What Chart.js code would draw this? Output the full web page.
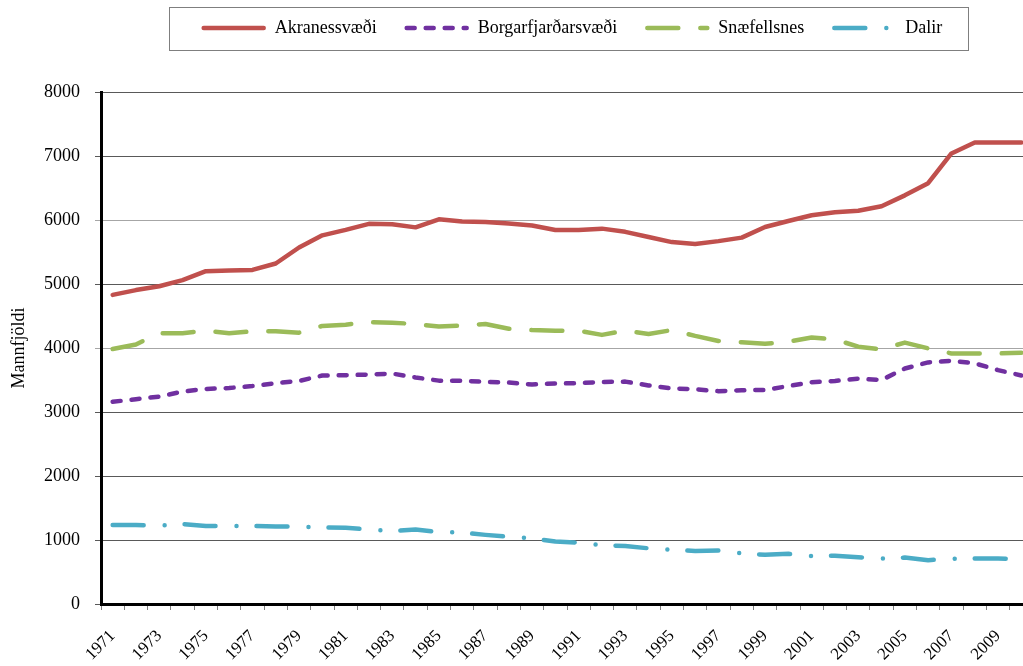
<!DOCTYPE html>
<html>
<head>
<meta charset="utf-8">
<title>Mannfjöldi</title>
<script src="https://cdn.jsdelivr.net/npm/chart.js@4.4.0/dist/chart.umd.min.js"></script>
<style>
    html, body { margin: 0; padding: 0; background: #fff; overflow: hidden; }
    canvas { display: block; }
</style>
</head>
<body>
<canvas id="popChart" width="1034" height="666"></canvas>
<script>
const years = ['1971', '1972', '1973', '1974', '1975', '1976', '1977', '1978', '1979', '1980',
               '1981', '1982', '1983', '1984', '1985', '1986', '1987', '1988', '1989', '1990',
               '1991', '1992', '1993', '1994', '1995', '1996', '1997', '1998', '1999', '2000',
               '2001', '2002', '2003', '2004', '2005', '2006', '2007', '2008', '2009', '2010'];

const akranes = [4830, 4905, 4965, 5060, 5200, 5210, 5220, 5320, 5570, 5760,
                 5845, 5940, 5935, 5885, 6010, 5975, 5970, 5945, 5915, 5845,
                 5845, 5865, 5815, 5735, 5655, 5625, 5670, 5725, 5890, 5985,
                 6075, 6120, 6145, 6215, 6385, 6575, 7040, 7210, 7210, 7210];

const borgarfjordur = [3160, 3200, 3240, 3320, 3360, 3375, 3405, 3450, 3485, 3570,
                       3575, 3585, 3600, 3540, 3490, 3490, 3470, 3460, 3430, 3445,
                       3450, 3470, 3475, 3415, 3370, 3355, 3325, 3340, 3345, 3405,
                       3465, 3485, 3520, 3500, 3680, 3775, 3800, 3760, 3655, 3570];

const snaefellsnes = [3985, 4055, 4230, 4230, 4270, 4230, 4260, 4260, 4240, 4345,
                      4365, 4405, 4395, 4375, 4335, 4350, 4375, 4300, 4280, 4270,
                      4270, 4205, 4270, 4220, 4280, 4190, 4110, 4090, 4065, 4100,
                      4165, 4135, 4020, 3980, 4085, 3995, 3915, 3915, 3915, 3925];

const dalir = [1235, 1235, 1225, 1250, 1220, 1220, 1220, 1210, 1210, 1195,
               1190, 1165, 1140, 1165, 1125, 1115, 1080, 1050, 1025, 975,
               960, 920, 905, 870, 845, 830, 835, 790, 770, 785,
               750, 755, 730, 710, 725, 685, 705, 710, 710, 705];

const yTicks = [0, 1000, 2000, 3000, 4000, 5000, 6000, 7000, 8000];

const serif = "'Liberation Serif', 'DejaVu Serif', serif";
const legendFont = 18;

// legend sits centred over the plot; sample lines (with dashes) and frame drawn here
const legendFrame = {
    id: 'legendFrame',
    afterLayout(chart) {
        const lg = chart.legend;
        const pad = lg.options.labels.padding;
        const shift = 28 - (lg.top + pad + legendFont / 2);
        lg.left = chart.chartArea.left + 10;
        lg.right = chart.chartArea.right;
        lg.top += shift;
        lg.bottom += shift;
    },
    afterDraw(chart) {
        const lg = chart.legend;
        const boxes = lg.legendHitBoxes;
        if (!boxes || !boxes.length) return;
        const c = chart.ctx;
        const cy = boxes[0].top + boxes[0].height / 2;

        c.save();
        boxes.forEach((hb, i) => {
            const ds = chart.data.datasets[i];
            c.beginPath();
            c.setLineDash(ds.borderDash || []);
            c.lineCap = 'round';
            c.lineWidth = ds.borderWidth;
            c.strokeStyle = ds.borderColor;
            c.moveTo(hb.left + 2, cy);
            c.lineTo(hb.left + 62, cy);
            c.stroke();
        });

        const last = boxes[boxes.length - 1];
        const left = Math.round(boxes[0].left - 33) + 0.5;
        const right = Math.round(last.left + last.width + 26) + 0.5;
        c.setLineDash([]);
        c.strokeStyle = '#7f7f7f';
        c.lineWidth = 1;
        c.strokeRect(left, Math.round(cy - 21) + 0.5, right - left, 43);
        c.restore();
    }
};

function line(label, data, color, dash) {
    return {
        label: label,
        data: data,
        borderColor: color,
        backgroundColor: color,
        borderWidth: 4.5,
        borderDash: dash,
        borderCapStyle: 'round',
        borderJoinStyle: 'round',
        pointStyle: 'line'
    };
}

const ctx = document.getElementById('popChart').getContext('2d');

new Chart(ctx, {
    type: 'line',
    data: {
        labels: years,
        datasets: [
            line('Akranessvæði', akranes, '#C0504D', []),
            line('Borgarfjarðarsvæði', borgarfjordur, '#7030A0', [8, 11]),
            line('Snæfellsnes', snaefellsnes, '#9BBB59', [31, 22]),
            line('Dalir', dalir, '#4BACC6', [31, 21, 0, 20])
        ]
    },
    options: {
        responsive: false,
        animation: false,
        elements: {
            line: { tension: 0, fill: false },
            point: { radius: 0, hoverRadius: 0 }
        },
        layout: { padding: { top: 36, left: 0, right: 1, bottom: 0 } },
        plugins: {
            legend: {
                position: 'top',
                labels: {
                    usePointStyle: true,
                    pointStyle: 'line',
                    pointStyleWidth: 64,
                    padding: 28,
                    color: '#000',
                    font: { family: serif, size: legendFont },
                    // sample lines are drawn by legendFrame so the dashes show
                    generateLabels: chart => Chart.defaults.plugins.legend.labels.generateLabels(chart)
                        .map(item => Object.assign(item, { lineWidth: 0, strokeStyle: 'rgba(0,0,0,0)' }))
                }
            },
            tooltip: { enabled: false }
        },
        scales: {
            x: {
                offset: true,
                grid: { offset: true, drawOnChartArea: false, tickLength: 6, color: '#808080' },
                border: { display: true, color: '#000', width: 3 },
                ticks: {
                    autoSkip: false,
                    minRotation: 45,
                    maxRotation: 45,
                    padding: 16,
                    color: '#000',
                    font: { family: serif, size: 17 },
                    callback: function(val, i) {
                        return i % 2 === 0 ? this.getLabelForValue(val) : '';
                    }
                },
                afterFit: s => {
                    s.height = 62;
                    s.paddingLeft = 0;
                    s.paddingRight = 0;
                }
            },
            y: {
                min: 0,
                max: 8000,
                afterBuildTicks: axis => { axis.ticks = yTicks.map(v => ({ value: v })); },
                ticks: {
                    padding: 15,
                    color: '#000',
                    font: { family: serif, size: 18 },
                    callback: v => String(v)
                },
                grid: {
                    tickLength: 6,
                    lineWidth: 1,
                    color: c => (c.tick && (c.tick.value === 4000 || c.tick.value === 6000)) ? '#a6a6a6' : '#595959'
                },
                border: { color: '#000', width: 3 },
                title: {
                    display: true,
                    text: 'Mannfjöldi',
                    color: '#000',
                    font: { family: serif, size: 18 },
                    padding: { top: 8, bottom: 0 }
                },
                afterFit: s => { s.width = 101; }
            }
        }
    },
    plugins: [legendFrame]
});
</script>
</body>
</html>
